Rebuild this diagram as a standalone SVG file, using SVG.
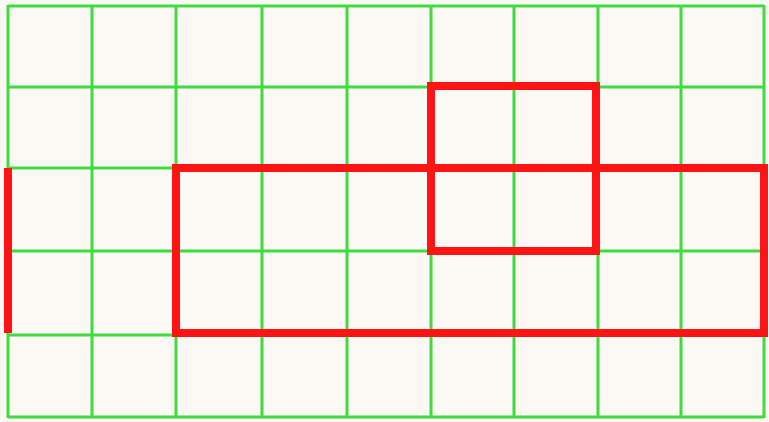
<svg xmlns="http://www.w3.org/2000/svg" width="769" height="422" viewBox="0 0 769 422">
<style>
.g{stroke:#3fdc3f;stroke-width:3;fill:none}
.r{stroke:#ff1414;stroke-width:8;fill:none}
</style>
<rect x="0" y="0" width="769" height="422" fill="#fcf8f3"/>
<g id="grid" class="g">
<path d="M8 5V418M92 5V418M176 5V418M262 5V418M347 5V418M431 5V418M514 5V418M598 5V418M681 5V418M764 5V418"/>
<path d="M8 6H764M8 87H764M8 168H764M8 251H764M8 335H764M8 417H764"/>
</g>
<g id="red-shapes" class="r">
<rect id="rect-large" x="176" y="168" width="588" height="165"/>
<rect id="rect-small" x="431" y="86" width="165" height="165"/>
<line id="left-bar" x1="8" y1="168" x2="8" y2="333"/>
</g>
</svg>
